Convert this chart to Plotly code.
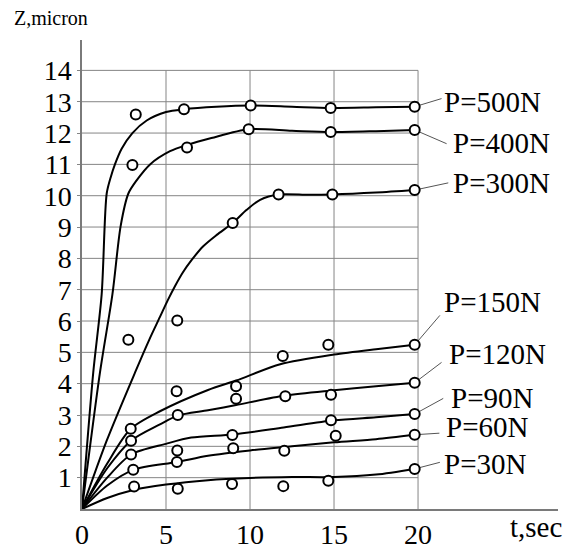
import plotly.graph_objects as go

# ---------------- data ----------------
LOADS = ["P=500N", "P=400N", "P=300N", "P=150N", "P=120N", "P=90N", "P=60N", "P=30N"]

# measured points (t, sec ; Z, micron)
PT_T = {
    "P=500N": [3.2, 6.07, 10.04, 14.8, 19.8],
    "P=400N": [3.0, 6.25, 9.92, 14.8, 19.8],
    "P=300N": [2.76, 5.67, 8.97, 11.7, 14.9, 19.8],
    "P=150N": [2.9, 5.63, 9.17, 11.95, 14.66, 19.8],
    "P=120N": [2.92, 5.7, 9.17, 12.1, 14.82, 19.8],
    "P=90N": [2.92, 5.67, 8.95, 14.82, 19.8],
    "P=60N": [3.05, 5.65, 9.0, 12.04, 15.1, 19.8],
    "P=30N": [3.1, 5.7, 8.93, 11.98, 14.66, 19.8],
}
PT_Z = {
    "P=500N": [12.59, 12.76, 12.88, 12.8, 12.84],
    "P=400N": [10.98, 11.54, 12.12, 12.03, 12.1],
    "P=300N": [5.4, 6.02, 9.13, 10.04, 10.04, 10.18],
    "P=150N": [2.56, 3.76, 3.92, 4.88, 5.24, 5.24],
    "P=120N": [2.18, 3.0, 3.52, 3.6, 3.65, 4.03],
    "P=90N": [1.74, 1.87, 2.36, 2.83, 3.03],
    "P=60N": [1.25, 1.5, 1.94, 1.86, 2.34, 2.37],
    "P=30N": [0.72, 0.65, 0.8, 0.73, 0.9, 1.28],
}

# fitted curves
CV_T = {
    "P=500N": [0, 0.67, 1.17, 1.47, 1.71, 1.96, 2.36, 3.0, 3.85, 5.0, 6.07, 8.0, 10.04, 12.5, 14.8, 17.5, 19.8],
    "P=400N": [0, 1.07, 1.81, 2.3, 2.76, 3.25, 4.05, 5.24, 6.25, 7.7, 9.92, 12.5, 14.8, 17.5, 19.8],
    "P=300N": [0, 1.47, 3.16, 4.0, 4.64, 5.1, 5.54, 6.0, 6.53, 7.2, 8.02, 8.97, 9.8, 10.6, 11.7, 13.5, 14.9, 17.5, 19.8],
    "P=150N": [0, 1.5, 2.9, 4.64, 7.5, 9.17, 11.8, 15.0, 17.5, 19.8],
    "P=120N": [0, 1.5, 2.92, 4.64, 5.7, 7.5, 9.17, 12.1, 15.0, 17.5, 19.8],
    "P=90N": [0, 1.5, 2.92, 5.0, 6.5, 9.0, 12.0, 15.0, 17.5, 19.8],
    "P=60N": [0, 1.5, 3.05, 5.65, 7.5, 10.0, 12.5, 15.0, 17.5, 19.8],
    "P=30N": [0, 1.5, 3.0, 5.0, 7.5, 10.0, 12.5, 15.0, 17.5, 19.8],
}
CV_Z = {
    "P=500N": [0, 4.36, 6.85, 10.07, 10.59, 11.0, 11.5, 12.0, 12.4, 12.67, 12.76, 12.84, 12.88, 12.84, 12.8, 12.82, 12.84],
    "P=400N": [0, 4.36, 6.85, 9.03, 10.07, 10.49, 11.0, 11.42, 11.62, 11.84, 12.12, 12.07, 12.03, 12.06, 12.1],
    "P=300N": [0, 2.18, 4.36, 5.4, 6.13, 6.66, 7.12, 7.55, 7.95, 8.38, 8.75, 9.13, 9.55, 9.87, 10.04, 10.03, 10.04, 10.1, 10.18],
    "P=150N": [0, 1.45, 2.56, 3.12, 3.8, 4.1, 4.62, 4.93, 5.1, 5.24],
    "P=120N": [0, 1.3, 2.18, 2.7, 2.98, 3.15, 3.32, 3.62, 3.79, 3.92, 4.03],
    "P=90N": [0, 1.0, 1.74, 2.08, 2.28, 2.38, 2.6, 2.83, 2.93, 3.03],
    "P=60N": [0, 0.75, 1.25, 1.5, 1.7, 1.87, 2.0, 2.13, 2.23, 2.37],
    "P=30N": [0, 0.35, 0.6, 0.78, 0.92, 0.99, 1.02, 1.02, 1.1, 1.28],
}

# label anchor (text left edge / middle) and leader-line end
LBL_T = [21.4, 21.95, 21.95, 21.4, 21.75, 21.85, 21.55, 21.4]
LBL_Z = [13.0, 11.69, 10.41, 6.61, 4.94, 3.55, 2.62, 1.43]
LEAD_T = [21.4, 21.7, 21.8, 21.3, 21.4, 21.5, 21.27, 21.3]
LEAD_Z = [13.1, 11.66, 10.41, 6.18, 4.68, 3.53, 2.42, 1.49]

X_TICKS = [0, 5, 10, 15, 20]
Y_TICKS = list(range(1, 15))
X_MAX, Y_MAX = 28.33, 14.97
GRID_T_MAX, GRID_Z_MAX = 20, 14

FONT = "Liberation Serif"
GRID = "#858585"

fig = go.Figure()

# grid drawn only over the 0..20 / 0..14 field
for z in Y_TICKS:
    fig.add_shape(type="line", x0=0, x1=GRID_T_MAX, y0=z, y1=z, xref="x", yref="y",
                  line=dict(color=GRID, width=1), layer="below")
for t in X_TICKS[1:]:
    fig.add_shape(type="line", x0=t, x1=t, y0=0, y1=GRID_Z_MAX, xref="x", yref="y",
                  line=dict(color=GRID, width=1), layer="below")

for i, name in enumerate(LOADS):
    fig.add_trace(go.Scatter(x=CV_T[name], y=CV_Z[name], mode="lines",
                             line=dict(color="black", width=2, shape="spline", smoothing=0.8),
                             showlegend=False, hoverinfo="skip"))
    # leader line from the last point to the label
    fig.add_shape(type="line", x0=PT_T[name][-1], y0=PT_Z[name][-1], x1=LEAD_T[i], y1=LEAD_Z[i],
                  xref="x", yref="y", line=dict(color="#555555", width=1), layer="below")
    fig.add_annotation(x=LBL_T[i], y=LBL_Z[i], xref="x", yref="y", text=name, showarrow=False,
                       xanchor="left", yanchor="middle",
                       font=dict(family=FONT, size=29, color="black"))

for name in LOADS:
    fig.add_trace(go.Scatter(x=PT_T[name], y=PT_Z[name], mode="markers",
                             marker=dict(symbol="circle", size=10, color="white",
                                         line=dict(color="black", width=2)),
                             showlegend=False, name=name))

fig.add_annotation(x=-0.147, y=1.046, xref="paper", yref="paper", text="Z,micron",
                   showarrow=False, xanchor="left", yanchor="middle",
                   font=dict(family=FONT, size=20, color="black"))
fig.add_annotation(x=0.895, y=-0.0375, xref="paper", yref="paper", text="t,sec",
                   showarrow=False, xanchor="left", yanchor="middle",
                   font=dict(family=FONT, size=29, color="black"))

fig.update_layout(
    width=565, height=557,
    margin=dict(l=82, r=7, t=40, b=37),
    paper_bgcolor="white", plot_bgcolor="white",
    font=dict(family=FONT),
    xaxis=dict(range=[0, X_MAX], tickvals=X_TICKS, ticktext=[str(v) for v in X_TICKS],
               showgrid=False, zeroline=False, showline=True, linecolor="#7a7a7a", linewidth=1.5,
               ticks="", tickfont=dict(family=FONT, size=28, color="black")),
    yaxis=dict(range=[0, Y_MAX], tickvals=Y_TICKS, ticktext=[str(v) for v in Y_TICKS],
               showgrid=False, zeroline=False, showline=True, linecolor="#7a7a7a", linewidth=1.5,
               ticks="outside", ticklen=3, tickcolor=GRID, tickwidth=1,
               tickfont=dict(family=FONT, size=28, color="black")),
)

fig.write_html("out.html")
